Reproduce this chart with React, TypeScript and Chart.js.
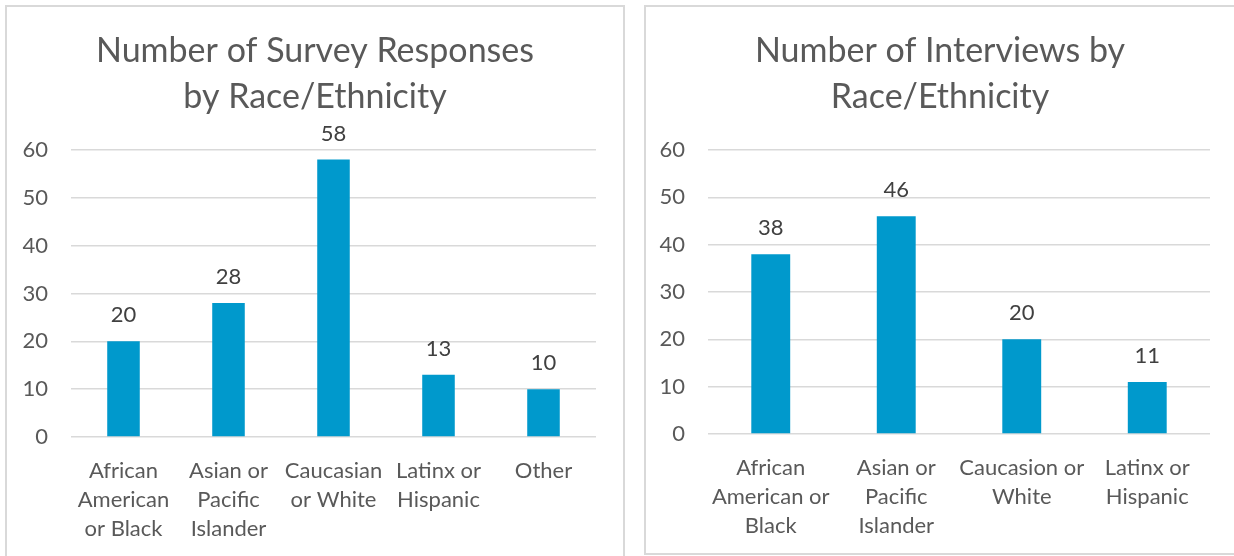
import React, { useEffect, useRef } from "react";
import { Chart, registerables } from "chart.js";

Chart.register(...registerables);

// ---- Data ----
const surveyCategories: string[][] = [
  ["African", "American", "or Black"],
  ["Asian or", "Pacific", "Islander"],
  ["Caucasian", "or White"],
  ["Latinx or", "Hispanic"],
  ["Other"],
];
const surveyValues: number[] = [20, 28, 58, 13, 10];

const interviewCategories: string[][] = [
  ["African", "American or", "Black"],
  ["Asian or", "Pacific", "Islander"],
  ["Caucasion or", "White"],
  ["Latinx or", "Hispanic"],
];
const interviewValues: number[] = [38, 46, 20, 11];

const surveyTitle: string[] = ["Number of Survey Responses", "by Race/Ethnicity"];
const interviewTitle: string[] = ["Number of Interviews by", "Race/Ethnicity"];

const yTicks: number[] = [0, 10, 20, 30, 40, 50, 60];

const FONT = "Lato, 'Open Sans', sans-serif";
const BAR = "#0099CC";
const GRID = "#D9D9D9";
const TEXT = "#595959";
const LABEL = "#404040";

const dataLabelPlugin = {
  id: "dataLabels",
  afterLayout(chart: any) {
    // center the title across the full panel width
    const tb = chart.titleBlock;
    if (tb) {
      tb.left = 0;
      tb.right = chart.width;
      tb.width = chart.width;
    }
  },
  afterDatasetsDraw(chart: any) {
    const ctx = chart.ctx;
    ctx.save();
    ctx.font = `22px ${FONT}`;
    ctx.fillStyle = LABEL;
    ctx.textAlign = "center";
    ctx.textBaseline = "middle";
    chart.data.datasets.forEach((ds: any, di: number) => {
      const meta = chart.getDatasetMeta(di);
      meta.data.forEach((el: any, i: number) => {
        ctx.fillText(String(ds.data[i]), el.x, el.y - 26);
      });
    });
    ctx.restore();
  },
};

interface PanelProps {
  categories: string[][];
  values: number[];
  title: string[];
  width: number;
  height: number;
  yWidth: number;
  xHeight: number;
  padRight: number;
  titlePadTop: number;
  titlePadBottom: number;
}

function BarPanel(p: PanelProps) {
  const ref = useRef<HTMLCanvasElement | null>(null);
  useEffect(() => {
    if (!ref.current) return;
    const chart = new Chart(ref.current, {
      type: "bar",
      data: {
        labels: p.categories,
        datasets: [
          {
            data: p.values,
            backgroundColor: BAR,
            borderWidth: 0,
            categoryPercentage: 1,
            barPercentage: 0.31,
          },
        ],
      },
      options: {
        animation: false,
        responsive: false,
        maintainAspectRatio: false,
        layout: { padding: { left: 0, right: p.padRight, top: 0, bottom: 0 } },
        plugins: {
          legend: { display: false },
          tooltip: { enabled: false },
          title: {
            display: true,
            text: p.title,
            color: TEXT,
            font: { family: FONT, size: 34, weight: "normal", lineHeight: 1.353 },
            padding: { top: p.titlePadTop, bottom: p.titlePadBottom },
          },
        },
        scales: {
          x: {
            grid: { display: false },
            border: { display: false },
            ticks: {
              color: TEXT,
              font: { family: FONT, size: 22, lineHeight: 1.3 },
              padding: 12,
              maxRotation: 0,
              autoSkip: false,
            },
            afterFit: (scale: any) => {
              scale.height = p.xHeight;
            },
          },
          y: {
            min: 0,
            max: 60,
            afterBuildTicks: (scale: any) => {
              scale.ticks = yTicks.map((v) => ({ value: v }));
            },
            grid: { color: GRID, lineWidth: 1.5, drawTicks: false },
            border: { display: false },
            ticks: {
              color: TEXT,
              font: { family: FONT, size: 22 },
              padding: 23,
            },
            afterFit: (scale: any) => {
              scale.width = p.yWidth;
            },
          },
        },
      },
      plugins: [dataLabelPlugin],
    });
    return () => chart.destroy();
  }, []);
  return <canvas ref={ref} width={p.width} height={p.height} style={{ display: "block", width: p.width, height: p.height }} />;
}

export default function App() {
  return (
    <div
      style={{
        position: "fixed",
        left: 0,
        top: 0,
        width: 1234,
        height: 556,
        overflow: "hidden",
        background: "#ffffff",
      }}
    >
      <div
        style={{
          position: "absolute",
          left: 5,
          top: 5,
          width: 616,
          height: 560,
          border: `2px solid ${GRID}`,
        }}
      />
      <div
        style={{
          position: "absolute",
          left: 644,
          top: 5,
          width: 600,
          height: 546,
          border: `2px solid ${GRID}`,
        }}
      />
      <div style={{ position: "absolute", left: 7, top: 7 }}>
        <BarPanel
          categories={surveyCategories}
          values={surveyValues}
          title={surveyTitle}
          width={616}
          height={549}
          yWidth={64}
          xHeight={119}
          padRight={27}
          titlePadTop={21.5}
          titlePadBottom={29.5}
        />
      </div>
      <div style={{ position: "absolute", left: 646, top: 7 }}>
        <BarPanel
          categories={interviewCategories}
          values={interviewValues}
          title={interviewTitle}
          width={588}
          height={545}
          yWidth={62}
          xHeight={118}
          padRight={24}
          titlePadTop={21.5}
          titlePadBottom={29.5}
        />
      </div>
    </div>
  );
}
